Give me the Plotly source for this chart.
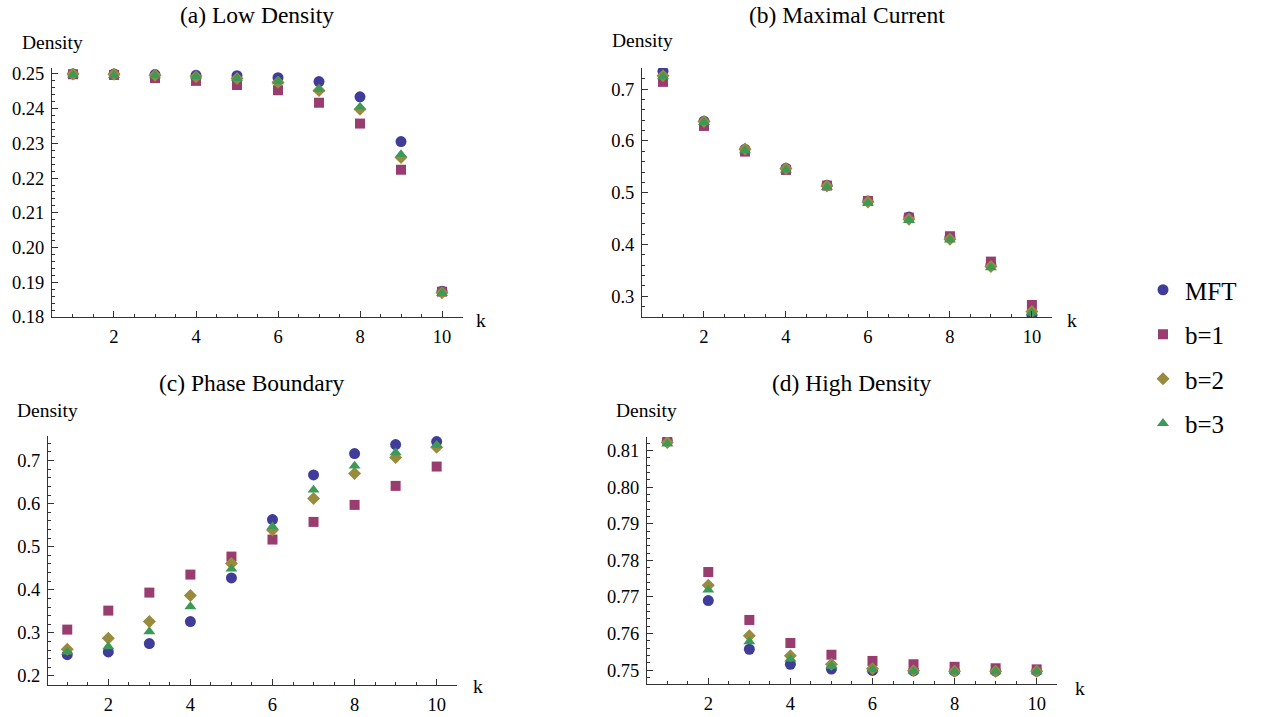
import plotly.graph_objects as go

W, H = 1267, 717

k = [1, 2, 3, 4, 5, 6, 7, 8, 9, 10]
series_names = ["MFT", "b=1", "b=2", "b=3"]

# (a) Low Density
low_mft = [0.2500, 0.2500, 0.2498, 0.2496, 0.2495, 0.2489, 0.2478, 0.2434, 0.2305, 0.1874]
low_b1 = [0.2499, 0.2497, 0.2488, 0.2480, 0.2468, 0.2453, 0.2417, 0.2357, 0.2224, 0.1873]
low_b2 = [0.2500, 0.2499, 0.2496, 0.2492, 0.2487, 0.2476, 0.2452, 0.2398, 0.2259, 0.1870]
low_b3 = [0.2497, 0.2496, 0.2495, 0.2492, 0.2487, 0.2478, 0.2456, 0.2405, 0.2268, 0.1869]

# (b) Maximal Current
max_mft = [0.7348, 0.6382, 0.5840, 0.5473, 0.5145, 0.4842, 0.4533, 0.4140, 0.3605, 0.2639]
max_b1 = [0.7142, 0.6291, 0.5795, 0.5441, 0.5138, 0.4842, 0.4520, 0.4160, 0.3670, 0.2833]
max_b2 = [0.7258, 0.6375, 0.5847, 0.5467, 0.5132, 0.4823, 0.4488, 0.4101, 0.3574, 0.2704]
max_b3 = [0.7245, 0.6362, 0.5815, 0.5441, 0.5106, 0.4803, 0.4469, 0.4089, 0.3554, 0.2684]

# (c) Phase Boundary
pb_mft = [0.2495, 0.2557, 0.2751, 0.3262, 0.4276, 0.5630, 0.6667, 0.7163, 0.7372, 0.7441]
pb_b1 = [0.3076, 0.3517, 0.3935, 0.4353, 0.4771, 0.5166, 0.5576, 0.5971, 0.6412, 0.6861]
pb_b2 = [0.2619, 0.2874, 0.3262, 0.3865, 0.4608, 0.5390, 0.6118, 0.6698, 0.7070, 0.7310]
pb_b3 = [0.2557, 0.2681, 0.3029, 0.3610, 0.4485, 0.5467, 0.6319, 0.6876, 0.7186, 0.7356]

# (d) High Density
hd_mft = [0.8127, 0.7690, 0.7557, 0.7516, 0.7503, 0.7499, 0.7498, 0.7497, 0.7497, 0.7497]
hd_b1 = [0.8126, 0.7768, 0.7637, 0.7574, 0.7542, 0.7525, 0.7516, 0.7509, 0.7505, 0.7502]
hd_b2 = [0.8122, 0.7732, 0.7594, 0.7539, 0.7516, 0.7504, 0.7498, 0.7497, 0.7497, 0.7497]
hd_b3 = [0.8118, 0.7719, 0.7578, 0.7531, 0.7511, 0.7502, 0.7497, 0.7496, 0.7496, 0.7496]

titles = ["(a) Low Density", "(b) Maximal Current", "(c) Phase Boundary", "(d) High Density"]
panels = [
    [low_mft, low_b1, low_b2, low_b3],
    [max_mft, max_b1, max_b2, max_b3],
    [pb_mft, pb_b1, pb_b2, pb_b3],
    [hd_mft, hd_b1, hd_b2, hd_b3],
]

colors = ["#3F3D99", "#993D71", "#998B3D", "#3D9956"]
symbols = ["circle", "square", "diamond", "triangle-up"]
sizes = [11, 10, 10, 10.5]

FONT = "Liberation Serif, Times New Roman, serif"
AXC = "#333333"


def px(x):
    return x / W


def py(y):
    return 1 - y / H


# panel geometry in pixels: (x_left, x_right, y_top, y_bottom)
geom = [(52, 463, 68, 317), (642, 1052, 68, 317), (48, 457, 436, 685), (647, 1057, 437, 684)]
xranges = [[0.488, 10.512], [0.488, 10.49], [0.531, 10.495], [0.507, 10.495]]
yranges = [[0.18, 0.2517], [0.26, 0.741], [0.179, 0.757], [0.7462, 0.8137]]
ydticks = [0.01, 0.1, 0.1, 0.01]
yminor = [0.002, 0.02, 0.02, 0.002]
yfmt = [".2f", ".1f", ".1f", ".2f"]

fig = go.Figure()

for p in range(4):
    sfx = "" if p == 0 else str(p + 1)
    for s in range(4):
        fig.add_trace(go.Scatter(
            x=k, y=panels[p][s], mode="markers", name=series_names[s],
            xaxis="x" + sfx, yaxis="y" + sfx,
            marker=dict(color=colors[s], symbol=symbols[s], size=sizes[s], line=dict(width=0)),
            legendgroup=series_names[s], showlegend=(p == 0),
        ))
    xl, xr, yt, yb = geom[p]
    fig.layout["xaxis" + sfx] = dict(
        domain=[px(xl), px(xr)], range=xranges[p], anchor="y" + sfx,
        showgrid=False, zeroline=False, showline=True, linecolor=AXC, linewidth=1,
        ticks="inside", ticklen=6, tickcolor=AXC, tick0=0, dtick=2,
        minor=dict(ticks="inside", ticklen=3, tickcolor=AXC, dtick=0.5, tick0=0, showgrid=False),
        tickfont=dict(family=FONT, size=18.5, color="black"),
        ticklabelstandoff=3,
    )
    fig.layout["yaxis" + sfx] = dict(
        domain=[py(yb), py(yt)], range=yranges[p], anchor="x" + sfx,
        showgrid=False, zeroline=False, showline=True, linecolor=AXC, linewidth=1,
        ticks="inside", ticklen=6, tickcolor=AXC, tick0=0, dtick=ydticks[p],
        minor=dict(ticks="inside", ticklen=3, tickcolor=AXC, dtick=yminor[p], tick0=0, showgrid=False),
        tickformat=yfmt[p],
        tickfont=dict(family=FONT, size=18.5, color="black"),
        ticklabelstandoff=3,
    )

ann = []
title_pos = [(257, 15), (847, 15), (252, 383), (852, 383)]
dens_pos = [(20, 43), (610, 41), (15, 410), (614, 410)]
k_pos = [(481, 320), (1072, 320), (478, 686), (1080, 688)]
for p in range(4):
    tx, ty = title_pos[p]
    ann.append(dict(x=px(tx), y=py(ty), xref="paper", yref="paper", text=titles[p],
                    showarrow=False, xanchor="center", yanchor="middle",
                    font=dict(family=FONT, size=23.5, color="black")))
    dx, dy = dens_pos[p]
    ann.append(dict(x=px(dx), y=py(dy), xref="paper", yref="paper", text="Density",
                    showarrow=False, xanchor="left", yanchor="middle",
                    font=dict(family=FONT, size=19.5, color="black")))
    kx, ky = k_pos[p]
    ann.append(dict(x=px(kx), y=py(ky), xref="paper", yref="paper", text="k",
                    showarrow=False, xanchor="center", yanchor="middle",
                    font=dict(family=FONT, size=19.5, color="black")))

fig.update_layout(
    width=W, height=H,
    margin=dict(l=0, r=0, t=0, b=0, autoexpand=False),
    paper_bgcolor="white", plot_bgcolor="white",
    annotations=ann,
    showlegend=True,
    legend=dict(x=px(1141), y=py(267), xanchor="left", yanchor="top",
                font=dict(family=FONT, size=25, color="black"),
                tracegroupgap=9, bgcolor="rgba(0,0,0,0)", itemsizing="trace",
                itemwidth=34),
)

fig.write_html(
    "out.html",
    config={"displayModeBar": False},
    post_script="document.body.style.margin='0';document.body.style.overflow='hidden';",
)
